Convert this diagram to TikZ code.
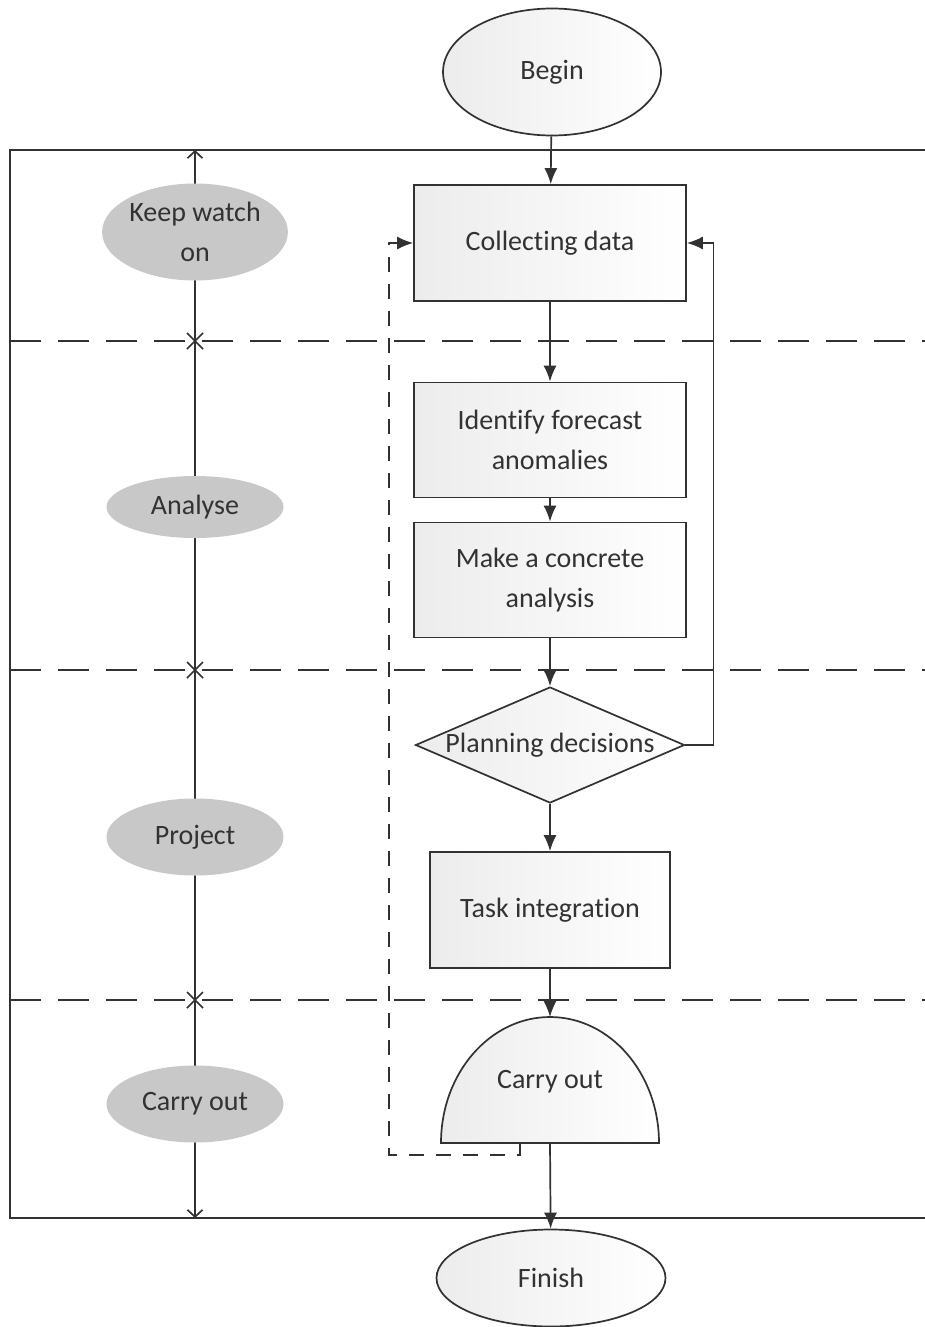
\documentclass[tikz,border=0pt]{standalone}
\usepackage{fontspec}
\setmainfont{Carlito}[Ligatures=NoCommon]
\usetikzlibrary{shapes.geometric,arrows.meta,calc}
\definecolor{ink}{RGB}{50,50,50}
\definecolor{boxg}{RGB}{236,236,236}
\definecolor{lane}{RGB}{200,200,200}
\begin{document}
\begin{tikzpicture}[x=1pt,y=-1pt,
  ln/.style={draw=ink, line width=1.7pt},
  flow/.style={ln, -{Latex[length=16pt,width=13pt]}},
  box/.style={rectangle, draw=ink, line width=1.7pt, left color=boxg, right color=white,
    inner sep=0pt, align=center, text=ink, font=\fontsize{28}{40}\selectfont},
  term/.style={ellipse, draw=ink, line width=1.7pt, left color=boxg, right color=white,
    inner sep=0pt, text=ink, font=\fontsize{28}{40}\selectfont},
  lanelbl/.style={ellipse, fill=lane, inner sep=0pt, minimum width=177pt, align=center,
    text=ink, font=\fontsize{28}{40}\selectfont},
  sep/.style={draw=ink, line width=1.7pt, dash pattern=on 31pt off 17pt},
  fb/.style={draw=ink, line width=1.7pt, dash pattern=on 15pt off 12pt},
  xmark/.style={draw=ink, line width=1.7pt}
]
\useasboundingbox (0,0) rectangle (925,1327);
\fill[white] (0,0) rectangle (925,1327);

% frame
\draw[ln] (925,150) -- (10,150) -- (10,1218) -- (925,1218);

% lane separators
\draw[sep] (10,341) -- (925,341);
\draw[sep] (10,670) -- (925,670);
\draw[sep] (10,1000) -- (925,1000);

% axis
\coordinate (axtop) at (195,150);
\coordinate (axbot) at (195,1218);
\draw[ln, {Straight Barb[length=7pt,width=15pt]}-{Straight Barb[length=7pt,width=15pt]}] (axtop) -- (axbot);
\foreach \yy [count=\i] in {341,670,1000}{
  \coordinate (x\i) at (195,\yy);
  \draw[xmark] ($(x\i)+(-8,-8)$) -- ($(x\i)+(8,8)$) ($(x\i)+(-8,8)$) -- ($(x\i)+(8,-8)$);
}

% lane labels
\node[lanelbl, minimum height=97pt] (l1) at (195,232) {Keep watch\\on};
\node[lanelbl, minimum height=62pt] (l2) at (195,507) {Analyse};
\node[lanelbl, minimum height=77pt] (l3) at (195,837) {Project};
\node[lanelbl, minimum height=77pt] (l4) at (195,1104) {Carry out};

% flow nodes
\node[term, minimum width=218pt, minimum height=127pt] (begin) at (552,72) {Begin};
\node[box, minimum width=272pt, minimum height=116pt] (collect) at (550,243) {Collecting data};
\node[box, minimum width=272pt, minimum height=115pt] (ident) at (550,440) {Identify forecast\\anomalies};
\node[box, minimum width=272pt, minimum height=115pt] (make) at (550,580) {Make a concrete\\analysis};
\node[diamond, draw=ink, line width=1.7pt, left color=boxg, right color=white, inner sep=0pt,
  minimum width=269pt, minimum height=116pt] (dia) at (550,745) {};
\node[text=ink, font=\fontsize{28}{40}\selectfont] (dialbl) at (dia.center) {Planning decisions};
\node[box, minimum width=240pt, minimum height=116pt] (task) at (550,910) {Task integration};

% carry out half-ellipse
\draw[ln, left color=boxg, right color=white] (441,1143) arc[start angle=180, end angle=360, x radius=109, y radius=126] -- cycle;
\coordinate (carrytop) at (550,1017);
\coordinate (carrybase) at (550,1143);
\coordinate (fbstart) at (520,1143);
\node[text=ink, font=\fontsize{28}{40}\selectfont] (carry) at (550,1082) {Carry out};

\node[term, minimum width=229pt, minimum height=97pt] (finish) at (551,1278) {Finish};

% connectors
\draw[flow] (begin) -- (collect);
\draw[flow] (collect) -- (ident);
\draw[flow] (ident) -- (make);
\draw[flow] (make) -- (dia);
\draw[flow] (dia) -- (task);
\draw[flow] (task) -- (carrytop);
\draw[flow] (carrybase) -- (finish);
\draw[flow] (dia.east) -- ++(28,0) |- (collect.east);
\coordinate (fbc) at (389,1155);
\draw[fb, -{Latex[length=16pt,width=13pt]}] (fbstart) |- (fbc) |- (collect.west);
\end{tikzpicture}
\end{document}
